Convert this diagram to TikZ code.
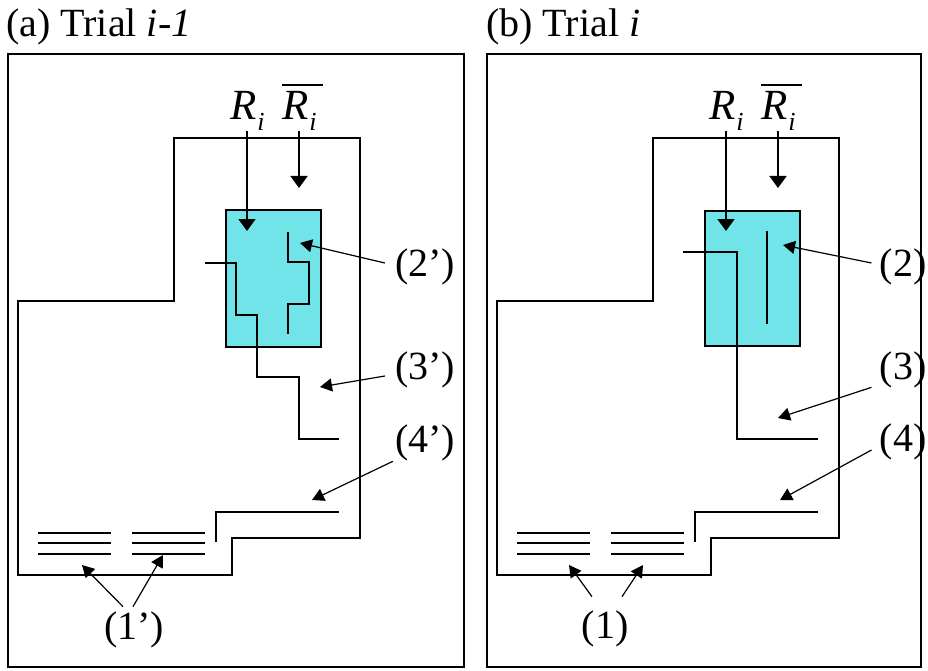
\documentclass[tikz,border=0pt]{standalone}
\usepackage{fontspec}
\setmainfont{Liberation Serif}
\usetikzlibrary{arrows.meta}
\definecolor{boxfill}{RGB}{112,228,232}
\newcommand{\rsub}{\textit{R}\kern1pt\raisebox{-11pt}{\fontsize{26}{28}\selectfont\textit{i}}}
\begin{document}
\begin{tikzpicture}[x=1pt,y=-1pt,
  wire/.style={line width=1.8pt,black},
  thinwire/.style={line width=1.6pt,black},
  frame/.style={line width=1.6pt,black},
  lab/.style={font=\fontsize{40}{44}\selectfont, inner sep=0pt},
  rlab/.style={font=\fontsize{43}{46}\selectfont, inner sep=0pt},
  rarrow/.style={line width=1.8pt,-{Triangle[length=12pt,width=17pt]}},
  larrow/.style={line width=1.2pt,-{Triangle[length=12pt,width=13pt]}},
  ]
\useasboundingbox (0,0) rectangle (928,671);
\fill[white] (0,0) rectangle (928,671);

% ---------- titles ----------
\node[lab,anchor=base west] (ta) at (6,37) {(a) Trial \textit{i-1}};
\node[lab,anchor=base west] (tb) at (486,37) {(b) Trial \textit{i}};

% ---------- frames ----------
\draw[frame] (8,54) rectangle (464,667);
\draw[frame] (487,54) rectangle (921,667);

% ================= panel (a) =================
\draw[wire] (174,138) -- (360,138) -- (360,538) -- (232,538) -- (232,575)
  -- (18,575) -- (18,301) -- (174,301) -- cycle;
\draw[wire,fill=boxfill] (226,210) rectangle (321,347);
\draw[wire] (205,263) -- (236,263) -- (236,315) -- (257,315) -- (257,377)
  -- (299,377) -- (299,439) -- (339,439);
\draw[wire] (288,232) -- (288,262) -- (309,262) -- (309,304) -- (288,304) -- (288,334);
\draw[wire] (216,542) -- (216,512) -- (339,512);
\foreach \yy in {533,543,554}{
  \draw[thinwire] (38,\yy) -- (111,\yy);
  \draw[thinwire] (132,\yy) -- (205,\yy);
}
\node[rlab,anchor=base west] (ria) at (230,120) {\rsub};
\node[rlab,anchor=base west] (rba) at (282,120) {\rsub};
\draw[line width=1.6pt] (282,85) -- (323,85);
\coordinate (tipRa) at (247,231);
\coordinate (tipRba) at (299,188);
\draw[rarrow] (ria.south -| tipRa) -- (tipRa);
\draw[rarrow] (rba.south -| tipRba) -- (tipRba);

\node[lab] (l2a) at (425,267) {(2’)};
\node[lab] (l3a) at (425,370) {(3’)};
\node[lab] (l4a) at (425,443) {(4’)};
\node[lab] (l1a) at (134,630) {(1’)};
\coordinate (t2a) at (300,243);
\coordinate (t3a) at (320,387);
\coordinate (t4a) at (312,500);
\coordinate (t1a) at (82,565);
\coordinate (t1b) at (163,555);
\draw[larrow] ([xshift=-10pt,yshift=4pt]l2a.west) -- (t2a);
\draw[larrow] ([xshift=-10pt,yshift=-6pt]l3a.west) -- (t3a);
\draw[larrow] ([xshift=-2pt]l4a.south west) -- (t4a);
\draw[larrow] ([xshift=-11pt,yshift=5pt]l1a.north) -- (t1a);
\draw[larrow] ([xshift=-1pt,yshift=5pt]l1a.north) -- (t1b);

% ================= panel (b) =================
\draw[wire] (653,138) -- (839,138) -- (839,538) -- (711,538) -- (711,575)
  -- (497,575) -- (497,301) -- (653,301) -- cycle;
\draw[wire,fill=boxfill] (705,211) rectangle (800,346);
\draw[wire] (683,252) -- (737,252) -- (737,439) -- (818,439);
\draw[wire] (767,231) -- (767,324);
\draw[wire] (695,542) -- (695,512) -- (818,512);
\foreach \yy in {533,543,554}{
  \draw[thinwire] (517,\yy) -- (590,\yy);
  \draw[thinwire] (611,\yy) -- (684,\yy);
}
\node[rlab,anchor=base west] (rib) at (709,120) {\rsub};
\node[rlab,anchor=base west] (rbb) at (761,120) {\rsub};
\draw[line width=1.6pt] (761,85) -- (802,85);
\coordinate (tipRb) at (726,231);
\coordinate (tipRbb) at (778,188);
\draw[rarrow] (rib.south -| tipRb) -- (tipRb);
\draw[rarrow] (rbb.south -| tipRbb) -- (tipRbb);

\node[lab] (l2b) at (903,267) {(2)};
\node[lab] (l3b) at (903,370) {(3)};
\node[lab] (l4b) at (903,442) {(4)};
\node[lab] (l1b) at (605,629) {(1)};
\coordinate (t2b) at (783,245);
\coordinate (t3b) at (778,418);
\coordinate (t4b) at (780,500);
\coordinate (t1c) at (569,565);
\coordinate (t1d) at (643,565);
\draw[larrow] ([xshift=-8pt,yshift=4pt]l2b.west) -- (t2b);
\draw[larrow] ([xshift=-8pt,yshift=1pt]l3b.south west) -- (t3b);
\draw[larrow] ([xshift=-8pt,yshift=-8pt]l4b.west) -- (t4b);
\draw[larrow] ([xshift=-13pt,yshift=14pt]l1b.north) -- (t1c);
\draw[larrow] ([xshift=17pt,yshift=14pt]l1b.north) -- (t1d);
\end{tikzpicture}
\end{document}
